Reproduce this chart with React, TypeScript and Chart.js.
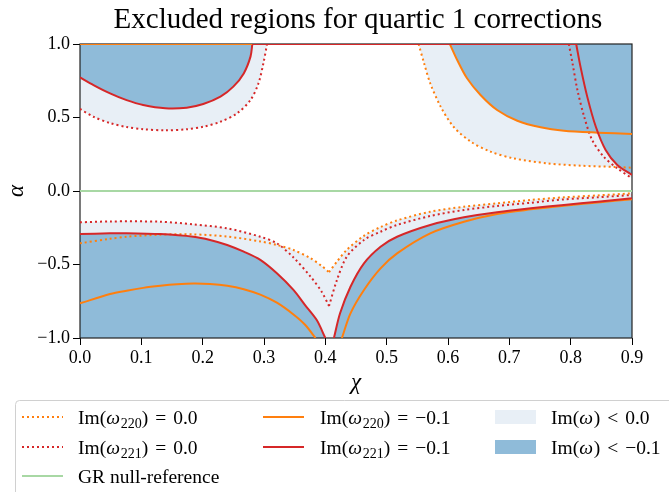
import { useEffect, useRef } from "react";
import { Chart, registerables } from "chart.js";

Chart.register(...registerables);

type Pt = [number, number];

// Axis ticks
const chiTicks = [0, 0.1, 0.2, 0.3, 0.4, 0.5, 0.6, 0.7, 0.8, 0.9];
const alphaTicks = [-1, -0.5, 0, 0.5, 1];

// Contours in the (chi, alpha) plane
// Im(omega_221) = 0, upper-left lobe
const im221ZeroTopLeft: Pt[] = [
  [0, 0.558], [0.022, 0.505], [0.049, 0.462], [0.076, 0.435], [0.103, 0.42], [0.139, 0.413],
  [0.174, 0.42], [0.201, 0.437], [0.229, 0.471], [0.256, 0.528], [0.278, 0.619],
  [0.291, 0.733], [0.299, 0.869], [0.305, 1.0],
];
// Im(omega_221) = -0.1, upper-left lobe
const im221LowTopLeft: Pt[] = [
  [0, 0.773], [0.022, 0.721], [0.049, 0.664], [0.076, 0.618], [0.103, 0.585], [0.139, 0.563],
  [0.174, 0.567], [0.201, 0.592], [0.229, 0.642], [0.25, 0.71], [0.267, 0.8], [0.278, 0.914],
  [0.281, 1.0],
];
// contour pieces running along the upper edge alpha = 1
const im220LowTopEdge: Pt[] = [[0, 1.0], [0.281, 1.0]];
const im221LowTopEdge: Pt[] = [[0.281, 1.0], [0.809, 1.0]];

// upper-right lobe
const im220ZeroTopRight: Pt[] = [
  [0.552, 1.0], [0.561, 0.869], [0.571, 0.733], [0.588, 0.574], [0.609, 0.437], [0.637, 0.336],
  [0.669, 0.268], [0.707, 0.222], [0.762, 0.188], [0.816, 0.172], [0.871, 0.164], [0.9, 0.158],
];
const im220LowTopRight: Pt[] = [
  [0.603, 1.0], [0.615, 0.891], [0.631, 0.767], [0.653, 0.653], [0.68, 0.551], [0.713, 0.478],
  [0.751, 0.433], [0.789, 0.41], [0.844, 0.397], [0.9, 0.388],
];
const im221ZeroTopRight: Pt[] = [
  [0.797, 1.0], [0.803, 0.869], [0.811, 0.687], [0.822, 0.506], [0.835, 0.347], [0.854, 0.233],
  [0.876, 0.154], [0.9, 0.086],
];
const im221LowTopRight: Pt[] = [
  [0.809, 1.0], [0.816, 0.846], [0.827, 0.642], [0.841, 0.437], [0.857, 0.279], [0.876, 0.177],
  [0.9, 0.109],
];

// GR reference
const grReference: Pt[] = [[0, 0], [0.9, 0]];

// lower half, left and right of the cusp near chi = 0.41
const im220ZeroBottomLeft: Pt[] = [
  [0, -0.356], [0.049, -0.325], [0.076, -0.311], [0.131, -0.297], [0.185, -0.295], [0.24, -0.31],
  [0.294, -0.343], [0.321, -0.367], [0.348, -0.401], [0.376, -0.458], [0.394, -0.51], [0.406, -0.552],
];
const im220ZeroBottomRight: Pt[] = [
  [0.406, -0.552], [0.419, -0.48], [0.435, -0.4], [0.463, -0.305], [0.49, -0.245], [0.517, -0.2],
  [0.571, -0.141], [0.626, -0.107], [0.68, -0.084], [0.735, -0.061], [0.789, -0.043],
  [0.844, -0.03], [0.9, -0.016],
];
const im221ZeroBottomLeft: Pt[] = [
  [0, -0.213], [0.049, -0.207], [0.131, -0.209], [0.185, -0.227], [0.24, -0.254], [0.294, -0.311],
  [0.321, -0.356], [0.348, -0.452], [0.376, -0.583], [0.394, -0.685], [0.406, -0.782],
];
const im221ZeroBottomRight: Pt[] = [
  [0.406, -0.782], [0.419, -0.605], [0.435, -0.447], [0.463, -0.333], [0.49, -0.277],
  [0.517, -0.231], [0.571, -0.17], [0.626, -0.129], [0.68, -0.102], [0.735, -0.08],
  [0.789, -0.057], [0.844, -0.043], [0.9, -0.027],
];
const im221LowBottomLeft: Pt[] = [
  [0, -0.293], [0.049, -0.288], [0.076, -0.287], [0.131, -0.293], [0.185, -0.311], [0.212, -0.333],
  [0.24, -0.367], [0.267, -0.413], [0.294, -0.469], [0.321, -0.56], [0.348, -0.673],
  [0.367, -0.776], [0.386, -0.878], [0.4, -1.0],
];
const im221LowBottomRight: Pt[] = [
  [0.414, -1.0], [0.424, -0.832], [0.441, -0.651], [0.463, -0.492], [0.49, -0.379],
  [0.517, -0.311], [0.571, -0.231], [0.626, -0.179], [0.68, -0.145], [0.735, -0.118],
  [0.789, -0.095], [0.844, -0.073], [0.9, -0.05],
];
const im220LowBottomLeft: Pt[] = [
  [0, -0.764], [0.049, -0.701], [0.076, -0.678], [0.103, -0.659], [0.131, -0.645], [0.158, -0.635],
  [0.185, -0.63], [0.212, -0.633], [0.24, -0.645], [0.267, -0.668], [0.294, -0.705],
  [0.321, -0.76], [0.348, -0.84], [0.367, -0.91], [0.384, -1.0],
];
const im220LowBottomRight: Pt[] = [
  [0.427, -1.0], [0.441, -0.832], [0.463, -0.673], [0.49, -0.526], [0.517, -0.424],
  [0.571, -0.288], [0.626, -0.209], [0.68, -0.156], [0.735, -0.125], [0.789, -0.1],
  [0.844, -0.078], [0.9, -0.056],
];

const SERIF = '"Liberation Serif", "DejaVu Serif", serif';
const ORANGE = "#ff7f0e";
const RED = "#d62728";
const GREEN_REF = "#a8d8a4";
const FILL_LIGHT = "#e8eff6";
const FILL_DARK = "#8fbbd9";
const DOTS = [2, 3];

type Piece = string | { i: string } | { sub: string } | { rel: string };

const legendCols = [
  { hx: 22, tx: 78 },
  { hx: 263, tx: 320 },
  { hx: 495, tx: 551 },
];
const legendRowY = [417, 447, 476];

const legendEntries: { col: number; row: number; kind: "dot" | "solid" | "patch"; color: string; label: Piece[] }[] = [
  { col: 0, row: 0, kind: "dot", color: ORANGE, label: ["Im(", { i: "ω" }, { sub: "220" }, ")", { rel: "=" }, "0.0"] },
  { col: 0, row: 1, kind: "dot", color: RED, label: ["Im(", { i: "ω" }, { sub: "221" }, ")", { rel: "=" }, "0.0"] },
  { col: 0, row: 2, kind: "solid", color: GREEN_REF, label: ["GR null-reference"] },
  { col: 1, row: 0, kind: "solid", color: ORANGE, label: ["Im(", { i: "ω" }, { sub: "220" }, ")", { rel: "=" }, "−0.1"] },
  { col: 1, row: 1, kind: "solid", color: RED, label: ["Im(", { i: "ω" }, { sub: "221" }, ")", { rel: "=" }, "−0.1"] },
  { col: 2, row: 0, kind: "patch", color: FILL_LIGHT, label: ["Im(", { i: "ω" }, ")", { rel: "<" }, "0.0"] },
  { col: 2, row: 1, kind: "patch", color: FILL_DARK, label: ["Im(", { i: "ω" }, ")", { rel: "<" }, "−0.1"] },
];

function fmtTick(v: number): string {
  const s = Math.abs(v) < 1e-9 ? "0.0" : v.toFixed(1);
  return s.replace("-", "\u2212");
}

function drawPieces(ctx: CanvasRenderingContext2D, pieces: Piece[], x: number, baseline: number, size: number) {
  let cx = x;
  for (const p of pieces) {
    if (typeof p === "string") {
      ctx.font = `${size}px ${SERIF}`;
      ctx.fillText(p, cx, baseline);
      cx += ctx.measureText(p).width;
    } else if ("i" in p) {
      ctx.font = `italic ${size}px ${SERIF}`;
      ctx.fillText(p.i, cx, baseline);
      cx += ctx.measureText(p.i).width + size * 0.04;
    } else if ("sub" in p) {
      const s = Math.round(size * 0.7);
      ctx.font = `${s}px ${SERIF}`;
      ctx.fillText(p.sub, cx, baseline + size * 0.22);
      cx += ctx.measureText(p.sub).width;
    } else {
      ctx.font = `${size}px ${SERIF}`;
      cx += size * 0.36;
      ctx.fillText(p.rel, cx, baseline);
      cx += ctx.measureText(p.rel).width + size * 0.36;
    }
  }
}

function curve(data: Pt[], color: string, dotted: boolean, fill: string | false, order: number) {
  return {
    data: data.map(([x, y]) => ({ x, y })),
    borderColor: color,
    borderWidth: 2,
    borderDash: dotted ? DOTS : [],
    pointRadius: 0,
    fill,
    backgroundColor: dotted ? FILL_LIGHT : FILL_DARK,
    tension: 0.3,
    order,
  };
}

const decorations = {
  id: "decorations",
  beforeDatasetsDraw(chart: Chart) {
    const { ctx, chartArea: a } = chart;
    ctx.save();
    ctx.strokeStyle = "#222";
    ctx.lineWidth = 1.2;
    ctx.strokeRect(a.left, a.top, a.right - a.left, a.bottom - a.top);
    ctx.restore();
  },
  afterDraw(chart: Chart) {
    const { ctx, chartArea: a } = chart;
    ctx.save();
    ctx.fillStyle = "#000";
    ctx.textBaseline = "alphabetic";
    // title
    ctx.textAlign = "center";
    ctx.font = `29px ${SERIF}`;
    ctx.fillText("Excluded regions for quartic 1 corrections", (a.left + a.right) / 2 + 2, 28);
    // axis titles
    ctx.font = `italic 23px ${SERIF}`;
    ctx.fillText("χ", (a.left + a.right) / 2, 389);
    ctx.save();
    ctx.translate(23, (a.top + a.bottom) / 2);
    ctx.rotate(-Math.PI / 2);
    ctx.fillText("α", 0, 0);
    ctx.restore();

    // legend frame
    ctx.beginPath();
    ctx.roundRect(15.5, 400.5, 720, 130, 4);
    ctx.fillStyle = "rgba(255,255,255,0.8)";
    ctx.fill();
    ctx.strokeStyle = "#d0d0d0";
    ctx.lineWidth = 1;
    ctx.stroke();

    ctx.textAlign = "left";
    for (const e of legendEntries) {
      const { hx, tx } = legendCols[e.col];
      const y = legendRowY[e.row];
      if (e.kind === "patch") {
        ctx.fillStyle = e.color;
        ctx.fillRect(hx, y - 7, 41, 14);
      } else {
        ctx.beginPath();
        ctx.setLineDash(e.kind === "dot" ? DOTS : []);
        ctx.strokeStyle = e.color;
        ctx.lineWidth = 2;
        ctx.moveTo(hx, y);
        ctx.lineTo(hx + 41, y);
        ctx.stroke();
        ctx.setLineDash([]);
      }
      ctx.fillStyle = "#000";
      drawPieces(ctx, e.label, tx, y + 7, 19.5);
    }
    ctx.restore();
  },
};

export default function App() {
  const ref = useRef<HTMLCanvasElement>(null);
  useEffect(() => {
    document.body.style.margin = "0";
    const canvas = ref.current;
    if (!canvas) return;
    const chart = new Chart(canvas, {
      type: "line",
      data: {
        datasets: [
          // dotted contours: Im = 0 (light fill), drawn beneath
          curve(im221ZeroTopLeft, RED, true, "end", 2),
          curve(im220ZeroTopRight, ORANGE, true, "end", 2),
          curve(im221ZeroTopRight, RED, true, "end", 2),
          curve(im220ZeroBottomLeft, ORANGE, true, "start", 2),
          curve(im220ZeroBottomRight, ORANGE, true, "start", 2),
          curve(im221ZeroBottomLeft, RED, true, "start", 2),
          curve(im221ZeroBottomRight, RED, true, "start", 2),
          // solid contours: Im = -0.1 (dark fill)
          curve(im221LowTopLeft, RED, false, "end", 1),
          curve(im220LowTopRight, ORANGE, false, "end", 1),
          curve(im221LowTopRight, RED, false, "end", 0),
          curve(im220LowBottomLeft, ORANGE, false, "start", 1),
          curve(im220LowBottomRight, ORANGE, false, "start", 1),
          curve(im221LowBottomLeft, RED, false, "start", 0),
          curve(im221LowBottomRight, RED, false, "start", 0),
          curve(im221LowTopEdge, RED, false, false, 0),
          curve(im220LowTopEdge, ORANGE, false, false, 0),
          curve(grReference, GREEN_REF, false, false, 0),
        ],
      },
      options: {
        animation: false,
        responsive: false,
        maintainAspectRatio: false,
        events: [],
        layout: { padding: { left: 0, right: 37, top: 44, bottom: 0 } },
        plugins: {
          legend: { display: false },
          tooltip: { enabled: false },
          title: { display: false },
          filler: { drawTime: "beforeDatasetsDraw", propagate: false },
        },
        scales: {
          x: {
            type: "linear",
            min: 0,
            max: 0.9,
            afterBuildTicks: (s: any) => {
              s.ticks = chiTicks.map((value) => ({ value }));
            },
            afterFit: (s: any) => {
              s.height = 154;
            },
            grid: { drawOnChartArea: false, drawTicks: true, tickLength: 7, color: "#000", tickColor: "#000", tickWidth: 1 },
            border: { display: false },
            ticks: {
              color: "#000",
              font: { family: SERIF, size: 18 },
              padding: 2,
              maxRotation: 0,
              autoSkip: false,
              callback: (v: any) => fmtTick(Number(v)),
            },
          },
          y: {
            type: "linear",
            min: -1,
            max: 1,
            afterBuildTicks: (s: any) => {
              s.ticks = alphaTicks.map((value) => ({ value }));
            },
            afterFit: (s: any) => {
              s.width = 80;
            },
            grid: { drawOnChartArea: false, drawTicks: true, tickLength: 7, color: "#000", tickColor: "#000", tickWidth: 1 },
            border: { display: false },
            ticks: {
              color: "#000",
              font: { family: SERIF, size: 18 },
              padding: 3,
              autoSkip: false,
              callback: (v: any) => fmtTick(Number(v)),
            },
          },
        },
      },
      plugins: [decorations],
    } as any);
    return () => chart.destroy();
  }, []);
  return (
    <div style={{ width: 669, height: 492 }}>
      <canvas ref={ref} width={669} height={492} style={{ display: "block" }} />
    </div>
  );
}
